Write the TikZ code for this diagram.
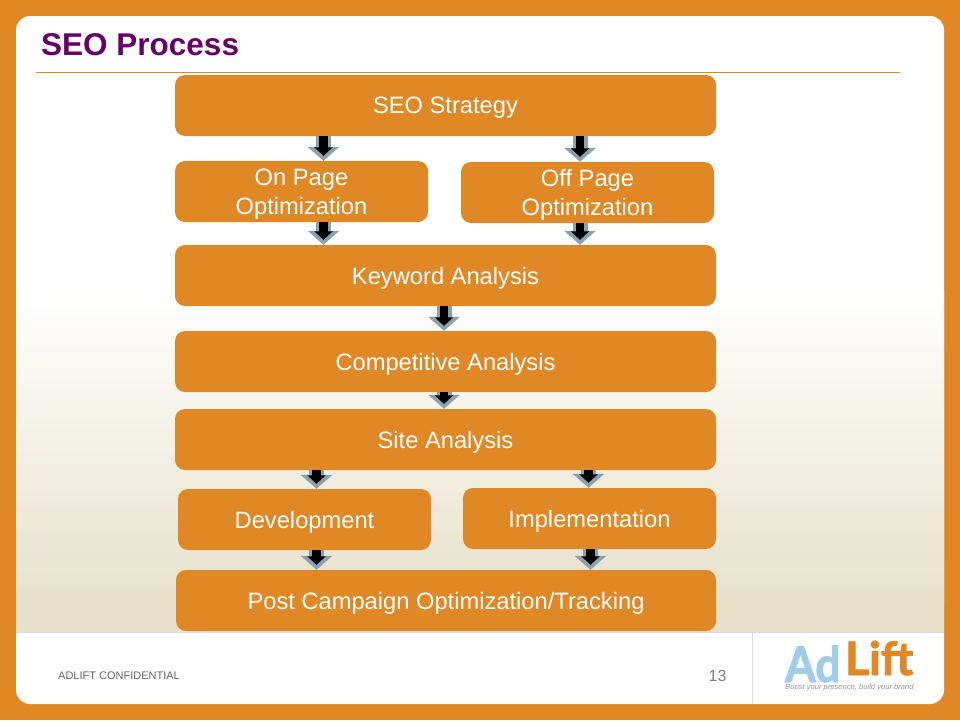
\documentclass[tikz,border=0pt]{standalone}
\usepackage{fontspec}
\setmainfont{Liberation Sans}
\newfontfamily\logofont[BoldFeatures={FakeBold=2}]{Lato}
\usetikzlibrary{arrows.meta}
\definecolor{brand}{HTML}{E08726}
\definecolor{beige}{HTML}{E7E1CB}
\definecolor{arrowgray}{HTML}{8AA2AD}
\definecolor{titlepurple}{HTML}{660066}
\definecolor{logoblue}{HTML}{A0CDE8}
\tikzset{
  stage/.style={rectangle,rounded corners=10pt,fill=brand,text=white,align=center,inner sep=0pt,
    text depth=0pt,font=\fontsize{23.7}{29}\selectfont},
  flowback/.style={line width=15pt,draw=arrowgray,-{Triangle[length=14pt,width=31pt]},arrowgray},
  flowfront/.style={line width=8.5pt,draw=black,shorten >=5pt,-{Triangle[length=8.5pt,width=18pt]},black},
  logotext/.style={anchor=base west,inner sep=0pt,text depth=0pt},
}
\newcommand{\flowarrow}[3]{%
  \draw[flowback] (#1.south -| #3) -- (#2.north -| #3);
  \draw[flowfront] (#1.south -| #3) -- (#2.north -| #3);
}
\begin{document}
\begin{tikzpicture}[x=1pt,y=-1pt]
\useasboundingbox (0,0) rectangle (960,720);
% frame and panel
\fill[brand] (0,0) rectangle (960,720);
\fill[white,rounded corners=14pt] (16,16) rectangle (944,704);
\shade[top color=white,bottom color=beige,shading angle=0] (16,290) rectangle (944,605);
\fill[beige] (16,605) rectangle (944,632);
\draw[line width=.8pt,black!15] (16,632.5) -- (944,632.5);
\draw[line width=.8pt,black!15] (752.5,632.5) -- (752.5,704);
% title
\node[anchor=base west,inner sep=0pt,text=titlepurple,font=\fontsize{31.5}{36}\selectfont\bfseries] (title) at (41,55) {SEO Process};
\draw[brand,line width=.8pt] (36,72.5) -- (900,72.5);
% stages
\node[stage,minimum width=541pt,minimum height=61pt] (strategy) at (445.5,105.5) {SEO Strategy};
\node[stage,minimum width=253pt,minimum height=61pt] (onpage) at (301.5,191.5) {On Page\\Optimization};
\node[stage,minimum width=253pt,minimum height=61pt] (offpage) at (587.5,192.5) {Off Page\\Optimization};
\node[stage,minimum width=541pt,minimum height=61pt] (keyword) at (445.5,275.5) {Keyword Analysis};
\node[stage,minimum width=541pt,minimum height=61pt] (competitive) at (445.5,361.5) {Competitive Analysis};
\node[stage,minimum width=541pt,minimum height=61pt] (site) at (445.5,439.5) {Site Analysis};
\node[stage,minimum width=253pt,minimum height=61pt] (development) at (304.5,519.5) {Development};
\node[stage,minimum width=253pt,minimum height=61pt] (implementation) at (589.5,518.5) {Implementation};
\node[stage,minimum width=540pt,minimum height=61pt] (post) at (446,600.5) {Post Campaign Optimization/Tracking};
% arrow columns
\coordinate (xa) at (323.5,0);
\coordinate (xb) at (580,0);
\coordinate (xc) at (444,0);
\coordinate (xd) at (316.5,0);
\coordinate (xe) at (588.5,0);
\coordinate (xf) at (590.5,0);
% connectors
\flowarrow{strategy}{onpage}{xa}
\flowarrow{strategy}{offpage}{xb}
\flowarrow{onpage}{keyword}{xa}
\flowarrow{offpage}{keyword}{xb}
\flowarrow{keyword}{competitive}{xc}
\flowarrow{competitive}{site}{xc}
\flowarrow{site}{development}{xd}
\flowarrow{site}{implementation}{xe}
\flowarrow{development}{post}{xd}
\flowarrow{implementation}{post}{xf}
% footer
\node[anchor=base west,inner sep=0pt,text=black!60,font=\fontsize{11}{12}\selectfont] (conf) at (58,679) {ADLIFT CONFIDENTIAL};
\node[anchor=base,inner sep=0pt,text=black!50,font=\fontsize{16}{18}\selectfont] (page) at (717.5,681.5) {13};
% logo
\node[logotext,text=logoblue,font=\logofont\fontsize{49}{49}\selectfont\bfseries,xscale=.9,transform shape] (logoad) at (785,682) {Ad};
\node[logotext,text=brand,font=\logofont\fontsize{46}{46}\selectfont\bfseries] (logolift) at (845,675) {Lift};
\node[logotext,text=black!40,font=\fontsize{7.6}{9}\selectfont\itshape] (tagline) at (785,689) {Boost your presence, build your brand};
\end{tikzpicture}
\end{document}
